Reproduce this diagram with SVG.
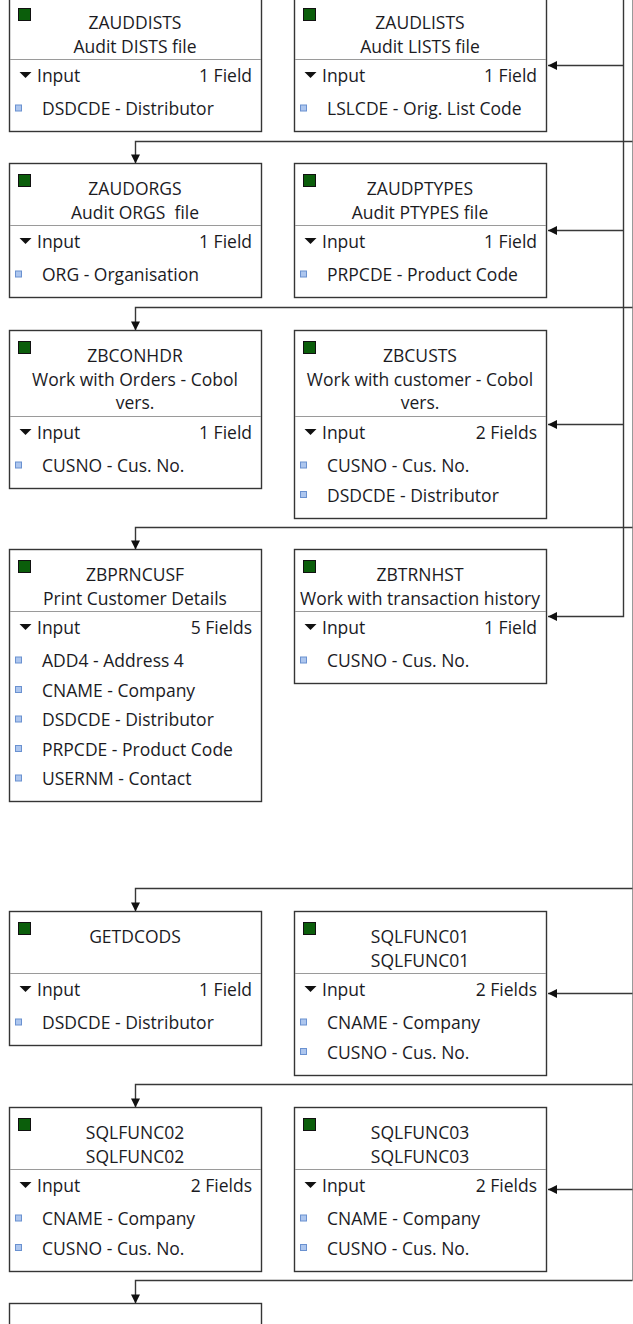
<svg xmlns="http://www.w3.org/2000/svg" width="633" height="1324" viewBox="0 0 633 1324">
<defs>
<style>
.box{fill:#fff;stroke:#353535;stroke-width:1.4}
.div{stroke:#9a9a9a;stroke-width:1}
.sq{fill:#0b5e0b;stroke:#111;stroke-width:1}
.t{font-family:"Open Sans","Noto Sans","DejaVu Sans",sans-serif;font-size:17.5px;fill:#1b1b1f}
.c{text-anchor:middle}
.e{text-anchor:end}
.tri{fill:#111}
.bul{fill:#adc6ee;stroke:#6a91d0;stroke-width:1}
.con{fill:none;stroke:#383838;stroke-width:1.4}
.lane{fill:none;stroke:#9a9a9a;stroke-width:1}
</style>
<marker id="ah" viewBox="0 0 10 10" refX="10" refY="5" markerWidth="10" markerHeight="9" markerUnits="userSpaceOnUse" orient="auto">
<path d="M0,0 L10,5 L0,10 z" fill="#111"/>
</marker>
</defs>

<g id="connectors">
<path class="lane" d="M632.5 0 V1280.5"/>
<path class="con" d="M623.5 0 V616.5 H548" marker-end="url(#ah)"/>
<path class="con" d="M623.5 65.5 H548" marker-end="url(#ah)"/>
<path class="con" d="M623.5 230.5 H548" marker-end="url(#ah)"/>
<path class="con" d="M623.5 424.5 H548" marker-end="url(#ah)"/>
<path class="con" d="M632.5 993.5 H548" marker-end="url(#ah)"/>
<path class="con" d="M632.5 1189.5 H548" marker-end="url(#ah)"/>
<path class="con" d="M632.5 141.5 H135.5 V163.5" marker-end="url(#ah)"/>
<path class="con" d="M632.5 307.5 H135.5 V330.5" marker-end="url(#ah)"/>
<path class="con" d="M632.5 527.5 H135.5 V549.5" marker-end="url(#ah)"/>
<path class="con" d="M632.5 888.5 H135.5 V911.5" marker-end="url(#ah)"/>
<path class="con" d="M632.5 1084.5 H135.5 V1107.5" marker-end="url(#ah)"/>
<path class="con" d="M632.5 1280.5 H135.5 V1303.5" marker-end="url(#ah)"/>
</g>

<g id="ZAUDDISTS" transform="translate(9,-3)">
<rect class="box" x="0.5" y="0.5" width="252" height="134"/>
<rect class="sq" x="9.5" y="11.5" width="12" height="12"/>
<text class="t c" x="126" y="32">ZAUDDISTS</text>
<text class="t c" x="126" y="55.5">Audit DISTS file</text>
<line class="div" x1="1" y1="62.5" x2="252" y2="62.5"/>
<polygon class="tri" points="10.5,75 22.5,75 16.5,81"/>
<text class="t" x="28" y="85">Input</text>
<text class="t e" x="243" y="85">1 Field</text>
<rect class="bul" x="6.5" y="108" width="6" height="6"/>
<text class="t" x="33" y="118">DSDCDE - Distributor</text>
</g>

<g id="ZAUDLISTS" transform="translate(294,-3)">
<rect class="box" x="0.5" y="0.5" width="252" height="134"/>
<rect class="sq" x="9.5" y="11.5" width="12" height="12"/>
<text class="t c" x="126" y="32">ZAUDLISTS</text>
<text class="t c" x="126" y="55.5">Audit LISTS file</text>
<line class="div" x1="1" y1="62.5" x2="252" y2="62.5"/>
<polygon class="tri" points="10.5,75 22.5,75 16.5,81"/>
<text class="t" x="28" y="85">Input</text>
<text class="t e" x="243" y="85">1 Field</text>
<rect class="bul" x="6.5" y="108" width="6" height="6"/>
<text class="t" x="33" y="118">LSLCDE - Orig. List Code</text>
</g>

<g id="ZAUDORGS" transform="translate(9,163)">
<rect class="box" x="0.5" y="0.5" width="252" height="134"/>
<rect class="sq" x="9.5" y="11.5" width="12" height="12"/>
<text class="t c" x="126" y="32">ZAUDORGS</text>
<text class="t c" x="126" y="55.5" xml:space="preserve">Audit ORGS  file</text>
<line class="div" x1="1" y1="62.5" x2="252" y2="62.5"/>
<polygon class="tri" points="10.5,75 22.5,75 16.5,81"/>
<text class="t" x="28" y="85">Input</text>
<text class="t e" x="243" y="85">1 Field</text>
<rect class="bul" x="6.5" y="108" width="6" height="6"/>
<text class="t" x="33" y="118">ORG - Organisation</text>
</g>

<g id="ZAUDPTYPES" transform="translate(294,163)">
<rect class="box" x="0.5" y="0.5" width="252" height="134"/>
<rect class="sq" x="9.5" y="11.5" width="12" height="12"/>
<text class="t c" x="126" y="32">ZAUDPTYPES</text>
<text class="t c" x="126" y="55.5">Audit PTYPES file</text>
<line class="div" x1="1" y1="62.5" x2="252" y2="62.5"/>
<polygon class="tri" points="10.5,75 22.5,75 16.5,81"/>
<text class="t" x="28" y="85">Input</text>
<text class="t e" x="243" y="85">1 Field</text>
<rect class="bul" x="6.5" y="108" width="6" height="6"/>
<text class="t" x="33" y="118">PRPCDE - Product Code</text>
</g>

<g id="ZBCONHDR" transform="translate(9,330)">
<rect class="box" x="0.5" y="0.5" width="252" height="158"/>
<rect class="sq" x="9.5" y="11.5" width="12" height="12"/>
<text class="t c" x="126" y="32">ZBCONHDR</text>
<text class="t c" x="126" y="55.5">Work with Orders - Cobol</text>
<text class="t c" x="126" y="79">vers.</text>
<line class="div" x1="1" y1="86.5" x2="252" y2="86.5"/>
<polygon class="tri" points="10.5,99 22.5,99 16.5,105"/>
<text class="t" x="28" y="109">Input</text>
<text class="t e" x="243" y="109">1 Field</text>
<rect class="bul" x="6.5" y="132" width="6" height="6"/>
<text class="t" x="33" y="142">CUSNO - Cus. No.</text>
</g>

<g id="ZBCUSTS" transform="translate(294,330)">
<rect class="box" x="0.5" y="0.5" width="252" height="188"/>
<rect class="sq" x="9.5" y="11.5" width="12" height="12"/>
<text class="t c" x="126" y="32">ZBCUSTS</text>
<text class="t c" x="126" y="55.5">Work with customer - Cobol</text>
<text class="t c" x="126" y="79">vers.</text>
<line class="div" x1="1" y1="86.5" x2="252" y2="86.5"/>
<polygon class="tri" points="10.5,99 22.5,99 16.5,105"/>
<text class="t" x="28" y="109">Input</text>
<text class="t e" x="243" y="109">2 Fields</text>
<rect class="bul" x="6.5" y="132" width="6" height="6"/>
<text class="t" x="33" y="142">CUSNO - Cus. No.</text>
<rect class="bul" x="6.5" y="161.5" width="6" height="6"/>
<text class="t" x="33" y="171.5">DSDCDE - Distributor</text>
</g>

<g id="ZBPRNCUSF" transform="translate(9,549)">
<rect class="box" x="0.5" y="0.5" width="252" height="252"/>
<rect class="sq" x="9.5" y="11.5" width="12" height="12"/>
<text class="t c" x="126" y="32">ZBPRNCUSF</text>
<text class="t c" x="126" y="55.5">Print Customer Details</text>
<line class="div" x1="1" y1="62.5" x2="252" y2="62.5"/>
<polygon class="tri" points="10.5,75 22.5,75 16.5,81"/>
<text class="t" x="28" y="85">Input</text>
<text class="t e" x="243" y="85">5 Fields</text>
<rect class="bul" x="6.5" y="108" width="6" height="6"/>
<text class="t" x="33" y="118">ADD4 - Address 4</text>
<rect class="bul" x="6.5" y="137.5" width="6" height="6"/>
<text class="t" x="33" y="147.5">CNAME - Company</text>
<rect class="bul" x="6.5" y="167" width="6" height="6"/>
<text class="t" x="33" y="177">DSDCDE - Distributor</text>
<rect class="bul" x="6.5" y="196.5" width="6" height="6"/>
<text class="t" x="33" y="206.5">PRPCDE - Product Code</text>
<rect class="bul" x="6.5" y="226" width="6" height="6"/>
<text class="t" x="33" y="236">USERNM - Contact</text>
</g>

<g id="ZBTRNHST" transform="translate(294,549)">
<rect class="box" x="0.5" y="0.5" width="252" height="134"/>
<rect class="sq" x="9.5" y="11.5" width="12" height="12"/>
<text class="t c" x="126" y="32">ZBTRNHST</text>
<text class="t c" x="126" y="55.5">Work with transaction history</text>
<line class="div" x1="1" y1="62.5" x2="252" y2="62.5"/>
<polygon class="tri" points="10.5,75 22.5,75 16.5,81"/>
<text class="t" x="28" y="85">Input</text>
<text class="t e" x="243" y="85">1 Field</text>
<rect class="bul" x="6.5" y="108" width="6" height="6"/>
<text class="t" x="33" y="118">CUSNO - Cus. No.</text>
</g>

<g id="GETDCODS" transform="translate(9,911)">
<rect class="box" x="0.5" y="0.5" width="252" height="134"/>
<rect class="sq" x="9.5" y="11.5" width="12" height="12"/>
<text class="t c" x="126" y="32">GETDCODS</text>
<line class="div" x1="1" y1="62.5" x2="252" y2="62.5"/>
<polygon class="tri" points="10.5,75 22.5,75 16.5,81"/>
<text class="t" x="28" y="85">Input</text>
<text class="t e" x="243" y="85">1 Field</text>
<rect class="bul" x="6.5" y="108" width="6" height="6"/>
<text class="t" x="33" y="118">DSDCDE - Distributor</text>
</g>

<g id="SQLFUNC01" transform="translate(294,911)">
<rect class="box" x="0.5" y="0.5" width="252" height="164"/>
<rect class="sq" x="9.5" y="11.5" width="12" height="12"/>
<text class="t c" x="126" y="32">SQLFUNC01</text>
<text class="t c" x="126" y="55.5">SQLFUNC01</text>
<line class="div" x1="1" y1="62.5" x2="252" y2="62.5"/>
<polygon class="tri" points="10.5,75 22.5,75 16.5,81"/>
<text class="t" x="28" y="85">Input</text>
<text class="t e" x="243" y="85">2 Fields</text>
<rect class="bul" x="6.5" y="108" width="6" height="6"/>
<text class="t" x="33" y="118">CNAME - Company</text>
<rect class="bul" x="6.5" y="137.5" width="6" height="6"/>
<text class="t" x="33" y="147.5">CUSNO - Cus. No.</text>
</g>

<g id="SQLFUNC02" transform="translate(9,1107)">
<rect class="box" x="0.5" y="0.5" width="252" height="164"/>
<rect class="sq" x="9.5" y="11.5" width="12" height="12"/>
<text class="t c" x="126" y="32">SQLFUNC02</text>
<text class="t c" x="126" y="55.5">SQLFUNC02</text>
<line class="div" x1="1" y1="62.5" x2="252" y2="62.5"/>
<polygon class="tri" points="10.5,75 22.5,75 16.5,81"/>
<text class="t" x="28" y="85">Input</text>
<text class="t e" x="243" y="85">2 Fields</text>
<rect class="bul" x="6.5" y="108" width="6" height="6"/>
<text class="t" x="33" y="118">CNAME - Company</text>
<rect class="bul" x="6.5" y="137.5" width="6" height="6"/>
<text class="t" x="33" y="147.5">CUSNO - Cus. No.</text>
</g>

<g id="SQLFUNC03" transform="translate(294,1107)">
<rect class="box" x="0.5" y="0.5" width="252" height="164"/>
<rect class="sq" x="9.5" y="11.5" width="12" height="12"/>
<text class="t c" x="126" y="32">SQLFUNC03</text>
<text class="t c" x="126" y="55.5">SQLFUNC03</text>
<line class="div" x1="1" y1="62.5" x2="252" y2="62.5"/>
<polygon class="tri" points="10.5,75 22.5,75 16.5,81"/>
<text class="t" x="28" y="85">Input</text>
<text class="t e" x="243" y="85">2 Fields</text>
<rect class="bul" x="6.5" y="108" width="6" height="6"/>
<text class="t" x="33" y="118">CNAME - Company</text>
<rect class="bul" x="6.5" y="137.5" width="6" height="6"/>
<text class="t" x="33" y="147.5">CUSNO - Cus. No.</text>
</g>

<g id="next-node" transform="translate(9,1303)">
<rect class="box" x="0.5" y="0.5" width="252" height="60"/>
</g>
</svg>
